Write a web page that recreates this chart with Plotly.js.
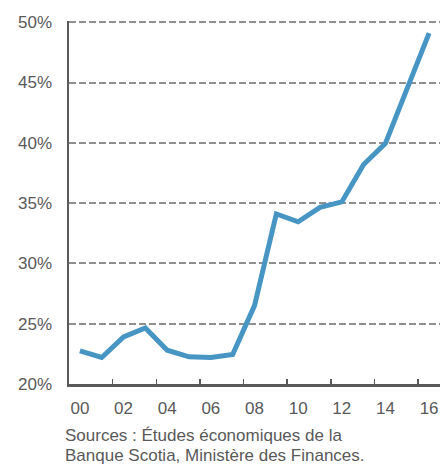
<!DOCTYPE html>
<html>
<head>
<meta charset="utf-8">
<script src="https://cdn.plot.ly/plotly-3.0.1.min.js"></script>
<style>html,body{margin:0;padding:0;background:#fff;}#chart{width:440px;height:465px;}</style>
</head>
<body>
<div id="chart"></div>
<script>
// Data: share (%) by year, 2000-2016
const years = [0,1,2,3,4,5,6,7,8,9,10,11,12,13,14,15,16];
const values = [22.75,22.2,23.9,24.65,22.8,22.25,22.2,22.45,26.5,34.1,33.45,34.65,35.1,38.2,39.95,44.4,49.1];
const tickPositions = [0,2,4,6,8,10,12,14,16];
const tickLabels = ["00","02","04","06","08","10","12","14","16"];
const dividerTicks = [1.5,3.5,5.5,7.5,9.5,11.5,13.5,15.5];
const yTicks = [20,25,30,35,40,45,50];
const yTickLabels = ["20%","25%","30%","35%","40%","45%","50%"];
const sourceLines = ["Sources : Études économiques de la","Banque Scotia, Ministère des Finances."];

const textColor = '#595959';
const font = {family: 'Liberation Sans, Arial, sans-serif', size: 17, color: textColor};

const trace = {
  x: years, y: values, type: 'scatter', mode: 'lines',
  line: {color: '#4795c3', width: 5, shape: 'linear'},
  hoverinfo: 'skip', cliponaxis: false
};

const layout = {
  width: 440, height: 465,
  margin: {l: 69, r: 0, t: 21, b: 81},
  paper_bgcolor: '#fff', plot_bgcolor: '#fff',
  font: font,
  showlegend: false,
  xaxis: {
    range: [-0.5, 16.5], fixedrange: true,
    tickmode: 'array', tickvals: tickPositions, ticktext: tickLabels,
    ticks: '', showgrid: false, zeroline: false,
    showline: true, linecolor: '#595959', linewidth: 2.5,
    ticklabelstandoff: 7,
    tickfont: font,
    minor: {tickmode: 'array', tickvals: dividerTicks, ticks: 'inside', ticklen: 5, tickwidth: 1.5, tickcolor: '#595959', showgrid: false}
  },
  yaxis: {
    range: [20, 50.1], fixedrange: true,
    tickmode: 'array', tickvals: yTicks, ticktext: yTickLabels,
    ticks: '', showgrid: true, gridcolor: '#8f8f8f', gridwidth: 2, griddash: '7px,3px',
    zeroline: false, showline: true, linecolor: '#595959', linewidth: 2.5,
    ticklabelstandoff: 11,
    tickfont: font
  },
  annotations: [
    {xref: 'paper', yref: 'paper', x: -0.016, y: -0.143, xanchor: 'left', yanchor: 'middle', showarrow: false, text: sourceLines[0], font: font, align: 'left'},
    {xref: 'paper', yref: 'paper', x: -0.016, y: -0.196, xanchor: 'left', yanchor: 'middle', showarrow: false, text: sourceLines[1], font: font, align: 'left'}
  ]
};

Plotly.newPlot('chart', [trace], layout, {displayModeBar: false, staticPlot: true});
</script>
</body>
</html>
